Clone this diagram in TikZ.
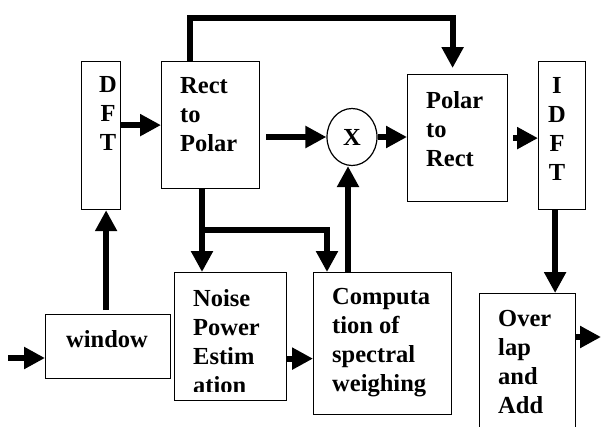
\documentclass[tikz,border=0pt]{standalone}
\usepackage{fontspec}
\setmainfont{Liberation Serif}
\usetikzlibrary{arrows.meta,shapes.geometric}
\newcommand{\unitpx}{1pt}

\begin{document}
\begin{tikzpicture}[x=\unitpx,y=-\unitpx]
\useasboundingbox (0,0) rectangle (601,426);
\tikzstyle{blk}=[draw,
			line width=1.2pt,
			rectangle,
			inner sep=0pt,
			anchor=north west
			]
\tikzstyle{txt}=[inner sep=0pt, align=left, font=\fontsize{24.5}{29}\selectfont\bfseries]
\tikzstyle{flow}=[line width=6pt, -{Triangle[length=21pt,width=21pt]}]

% blocks
\node[blk, minimum width=39, minimum height=148] (dft) at (81,61) {};
\node[blk, minimum width=98, minimum height=127] (r2p) at (161,61) {};
\node[blk, minimum width=100, minimum height=127] (p2r) at (407,74) {};
\node[blk, minimum width=47, minimum height=148] (idft) at (538,61) {};
\node[blk, minimum width=125, minimum height=64] (win) at (45,314) {};
\node[blk, minimum width=112, minimum height=128] (noise) at (174,272) {};
\node[blk, minimum width=138, minimum height=142] (comp) at (313,272) {};
\node[blk, minimum width=96, minimum height=150] (ovl) at (479,293) {};
\node[draw, line width=1.2pt, ellipse, inner sep=0pt, minimum width=50, minimum height=57,
      font=\fontsize{24.5}{29}\selectfont\bfseries] (mult) at (352,137) {X};

% labels
\node[txt, align=center, anchor=north] (dftt) at (108,76) {D\\F\\T};
\node[txt, anchor=north west] (r2pt) at (180,77.5) {Rect\\to\\Polar};
\node[txt, anchor=north west] (p2rt) at (426,91.5) {Polar\\to\\Rect};
\node[txt, align=center, anchor=north] (idftt) at (557,77) {I\\D\\F\\T};
\node[txt, anchor=base] (wint) at (107,347) {window};
\begin{scope}
\clip (174,272) rectangle (286,391);
\node[txt, anchor=north west] (noiset) at (193,289.5) {Noise\\Power\\Estim\\ation};
\end{scope}
\node[txt, anchor=north west] (compt) at (332,288) {Computa\\tion of\\spectral\\weighing};
\node[txt, anchor=north west] (ovlt) at (498,310.5) {Over\\lap\\and\\Add};

% connectors
\coordinate (in) at (8,358);
\coordinate (out) at (601,337);
\coordinate (split) at (202,230);
\coordinate (ne) at ([yshift=-22]noise.east);
\draw[flow] (in) -- (win.west |- in);
\draw[flow] ([xshift=-2,yshift=4]win.north) -- ([xshift=-2]win.north |- dft.south);
\draw[flow] (dft.east |- r2p.west) -- (r2p.west);
\draw[flow] ([xshift=6]r2p.east |- mult.west) -- (mult.west);
\draw[flow] (mult.east) -- (p2r.west |- mult.east);
\draw[flow] ([xshift=5]p2r.east) -- (idft.west |- p2r.east);
\draw[flow] ([xshift=-7]idft.south) -- ([xshift=-7]idft.south |- ovl.north);
\draw[flow] (ovl.east |- out) -- (out);
\draw[flow] ([xshift=29]r2p.north west) -- ++(0,-43) -| ([xshift=-5,yshift=6]p2r.north);
\draw[flow] (r2p.south -| split) -- (split |- noise.north);
\draw[flow] (split) -| ([xshift=14]comp.north west);
\draw[flow] ([xshift=-4]mult.south |- comp.north) -- ([xshift=-4]mult.south);
\draw[flow] (ne) -- (comp.west |- ne);

\end{tikzpicture}
\end{document}
